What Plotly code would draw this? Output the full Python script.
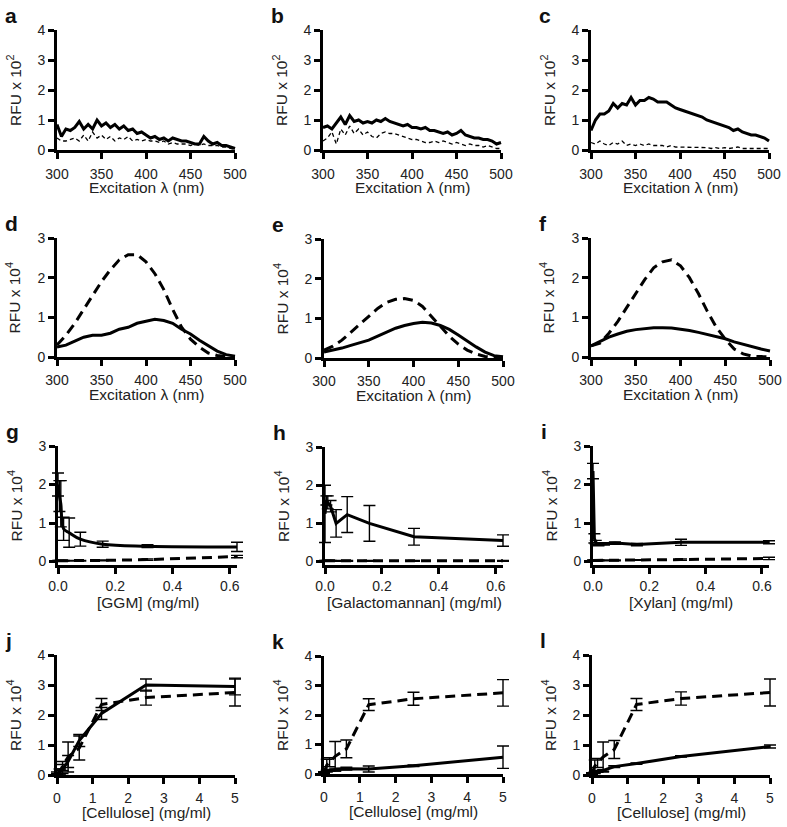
import plotly.graph_objects as go

W, H = 787, 827

# ---------------- data ----------------
# a-c: noisy excitation spectra (RFU x 10^2)
wl_noisy = list(range(300, 505, 5))
a_solid = [0.85, 0.45, 0.7, 0.65, 0.75, 0.95, 0.7, 0.85, 0.7, 1.0, 0.8, 0.9, 0.75, 0.85, 0.7, 0.8,
           0.65, 0.7, 0.55, 0.6, 0.5, 0.4, 0.45, 0.35, 0.4, 0.3, 0.4, 0.35, 0.3, 0.3, 0.25, 0.2,
           0.2, 0.45, 0.3, 0.2, 0.25, 0.15, 0.15, 0.1, 0.05]
a_dashed = [0.4, 0.3, 0.3, 0.35, 0.4, 0.3, 0.5, 0.3, 0.6, 0.4, 0.5, 0.35, 0.45, 0.3, 0.4, 0.35,
            0.45, 0.3, 0.35, 0.3, 0.35, 0.3, 0.3, 0.25, 0.3, 0.2, 0.25, 0.2, 0.2, 0.2, 0.15, 0.2,
            0.15, 0.2, 0.15, 0.15, 0.15, 0.1, 0.1, 0.05, 0.0]
b_solid = [0.75, 0.8, 0.7, 0.9, 1.1, 0.85, 1.15, 0.95, 1.0, 0.9, 0.95, 0.9, 1.0, 0.95, 1.05, 0.95,
           0.9, 0.85, 0.8, 0.85, 0.75, 0.75, 0.7, 0.75, 0.65, 0.65, 0.6, 0.55, 0.6, 0.5, 0.55, 0.65,
           0.5, 0.45, 0.4, 0.4, 0.35, 0.35, 0.3, 0.2, 0.25]
b_dashed = [0.3, 0.4, 0.6, 0.2, 0.7, 0.5, 0.8, 0.55, 0.7, 0.5, 0.6, 0.45, 0.4, 0.55, 0.6, 0.55,
            0.55, 0.5, 0.45, 0.4, 0.35, 0.35, 0.3, 0.25, 0.25, 0.3, 0.25, 0.3, 0.25, 0.2, 0.25, 0.2,
            0.15, 0.2, 0.15, 0.15, 0.1, 0.15, 0.1, 0.05, 0.05]
c_solid = [0.65, 1.0, 1.2, 1.2, 1.3, 1.55, 1.4, 1.55, 1.5, 1.75, 1.5, 1.65, 1.65, 1.75, 1.7, 1.6,
           1.6, 1.6, 1.5, 1.4, 1.35, 1.3, 1.25, 1.2, 1.15, 1.1, 1.0, 0.95, 0.9, 0.85, 0.8, 0.75,
           0.65, 0.7, 0.6, 0.55, 0.5, 0.5, 0.45, 0.4, 0.3]
c_dashed = [0.25, 0.2, 0.3, 0.2, 0.15, 0.25, 0.2, 0.3, 0.15, 0.2, 0.15, 0.2, 0.15, 0.2, 0.15, 0.15,
            0.15, 0.1, 0.15, 0.1, 0.1, 0.1, 0.1, 0.08, 0.1, 0.08, 0.08, 0.05, 0.08, 0.05, 0.08, 0.05,
            0.08, 0.1, 0.05, 0.05, 0.05, 0.05, 0.05, 0.05, 0.05]

# d-f: smooth excitation spectra (RFU x 10^4)
wl_smooth = list(range(300, 510, 10))
d_solid = [0.25, 0.3, 0.4, 0.5, 0.55, 0.55, 0.6, 0.7, 0.75, 0.85, 0.9, 0.95, 0.92, 0.85, 0.7, 0.58,
           0.42, 0.28, 0.15, 0.06, 0.02]
d_dashed = [0.3, 0.55, 0.85, 1.2, 1.55, 1.9, 2.2, 2.45, 2.58, 2.58, 2.4, 2.1, 1.7, 1.2, 0.75, 0.45,
            0.25, 0.1, 0.04, 0.01, 0.0]
e_solid = [0.15, 0.2, 0.25, 0.32, 0.38, 0.45, 0.55, 0.65, 0.75, 0.82, 0.87, 0.9, 0.88, 0.82, 0.72,
           0.58, 0.42, 0.28, 0.15, 0.06, 0.03]
e_dashed = [0.2, 0.3, 0.45, 0.65, 0.85, 1.05, 1.25, 1.4, 1.48, 1.5, 1.45, 1.3, 1.05, 0.8, 0.55, 0.35,
            0.2, 0.1, 0.04, 0.01, 0.0]
f_solid = [0.28, 0.4, 0.5, 0.58, 0.65, 0.69, 0.72, 0.74, 0.74, 0.73, 0.7, 0.67, 0.62, 0.57, 0.52,
           0.46, 0.38, 0.32, 0.25, 0.2, 0.15]
f_dashed = [0.28, 0.35, 0.6, 0.9, 1.25, 1.6, 1.95, 2.25, 2.4, 2.45, 2.3, 2.0, 1.6, 1.15, 0.75, 0.45,
            0.2, 0.08, 0.02, 0.01, 0.0]

# g-i: hemicellulose titrations (RFU x 10^4)
conc_hemi = [0, 0.0049, 0.0098, 0.0195, 0.039, 0.078, 0.156, 0.3125, 0.625]
g_solid = [2.0, 1.7, 1.5, 0.85, 0.75, 0.58, 0.45, 0.40, 0.38]
g_solid_err = [0.3, 0.4, 0.6, 0.3, 0.38, 0.18, 0.08, 0.04, 0.12]
g_dashed = [0.02, 0.02, 0.02, 0.02, 0.02, 0.02, 0.03, 0.05, 0.13]
g_dashed_err = [0.01, 0.01, 0.01, 0.01, 0.01, 0.01, 0.01, 0.02, 0.03]
h_solid = [1.25, 1.6, 1.55, 1.45, 1.0, 1.23, 1.0, 0.65, 0.55]
h_solid_err = [0.75, 0.12, 0.17, 0.15, 0.36, 0.47, 0.47, 0.22, 0.15]
h_dashed = [0.02, 0.02, 0.02, 0.02, 0.02, 0.02, 0.02, 0.02, 0.02]
h_dashed_err = [0.01, 0.01, 0.01, 0.01, 0.01, 0.01, 0.01, 0.01, 0.01]
i_solid = [2.35, 0.6, 0.5, 0.45, 0.46, 0.48, 0.44, 0.5, 0.5]
i_solid_err = [0.2, 0.12, 0.05, 0.04, 0.03, 0.03, 0.03, 0.08, 0.04]
i_dashed = [0.03, 0.03, 0.03, 0.03, 0.03, 0.03, 0.04, 0.05, 0.08]
i_dashed_err = [0.01, 0.01, 0.01, 0.01, 0.01, 0.01, 0.01, 0.02, 0.03]

# j-l: cellulose titrations (RFU x 10^4)
conc_cell = [0, 0.078, 0.156, 0.3125, 0.625, 1.25, 2.5, 5]
j_solid = [0.05, 0.1, 0.2, 0.45, 1.15, 2.05, 3.0, 2.95]
j_solid_err = [0.05, 0.1, 0.15, 0.2, 0.2, 0.2, 0.2, 0.28]
j_dashed = [0.02, 0.1, 0.3, 0.6, 0.9, 2.35, 2.58, 2.75]
j_dashed_err = [0.02, 0.1, 0.15, 0.5, 0.4, 0.2, 0.25, 0.45]
k_solid = [0.05, 0.1, 0.12, 0.15, 0.18, 0.17, 0.28, 0.57]
k_solid_err = [0.02, 0.03, 0.03, 0.05, 0.05, 0.1, 0.03, 0.38]
k_dashed = [0.05, 0.3, 0.4, 0.6, 0.85, 2.35, 2.55, 2.75]
k_dashed_err = [0.03, 0.2, 0.15, 0.5, 0.3, 0.2, 0.22, 0.45]
l_solid = [0.05, 0.08, 0.12, 0.15, 0.28, 0.38, 0.62, 0.95]
l_solid_err = [0.02, 0.03, 0.03, 0.03, 0.03, 0.02, 0.02, 0.05]
l_dashed = [0.05, 0.3, 0.4, 0.6, 0.85, 2.35, 2.55, 2.75]
l_dashed_err = [0.03, 0.2, 0.15, 0.5, 0.3, 0.2, 0.22, 0.45]

# ---------------- panels ----------------
# letter, x, solid, solid err, dashed, dashed err, box px (l, r, t, b), xrange, yrange, ytop, xtitle,
# exponent, x tick label standoff
panels = [
    ("a", wl_noisy, a_solid, None, a_dashed, None, (57, 235, 30, 150), [300, 500], [0, 4], 4, "wl", 2, 3),
    ("b", wl_noisy, b_solid, None, b_dashed, None, (323, 501, 30, 150), [300, 500], [0, 4], 4, "wl", 2, 3),
    ("c", wl_noisy, c_solid, None, c_dashed, None, (591, 769, 30, 150), [300, 500], [0, 4], 4, "wl", 2, 3),
    ("d", wl_smooth, d_solid, None, d_dashed, None, (57, 235, 238, 357), [300, 500], [0, 3], 3, "wl", 4, 2),
    ("e", wl_smooth, e_solid, None, e_dashed, None, (324, 503, 239, 358), [300, 500], [0, 3], 3, "wl", 4, 2),
    ("f", wl_smooth, f_solid, None, f_dashed, None, (591, 770, 238, 357), [300, 500], [0, 3], 3, "wl", 4, 2),
    ("g", conc_hemi, g_solid, g_solid_err, g_dashed, g_dashed_err, (58, 237, 446, 565), [0, 0.625], [-0.09, 3], 3, "[GGM] (mg/ml)", 4, 0),
    ("h", conc_hemi, h_solid, h_solid_err, h_dashed, h_dashed_err, (325, 503, 447, 565), [0, 0.625], [-0.09, 3], 3, "[Galactomannan] (mg/ml)", 4, 0),
    ("i", conc_hemi, i_solid, i_solid_err, i_dashed, i_dashed_err, (593, 769, 446, 565), [0, 0.625], [-0.09, 3], 3, "[Xylan] (mg/ml)", 4, 0),
    ("j", conc_cell, j_solid, j_solid_err, j_dashed, j_dashed_err, (57, 235, 655, 775), [0, 5], [0, 4], 4, "[Cellulose] (mg/ml)", 4, 2),
    ("k", conc_cell, k_solid, k_solid_err, k_dashed, k_dashed_err, (324, 503, 656, 774), [0, 5], [0, 4], 4, "[Cellulose] (mg/ml)", 4, 2),
    ("l", conc_cell, l_solid, l_solid_err, l_dashed, l_dashed_err, (592, 770, 655, 775), [0, 5], [0, 4], 4, "[Cellulose] (mg/ml)", 4, 2),
]

FONT = "Liberation Sans, Arial, Helvetica, sans-serif"
TXT = "#222"
PAD = 12  # px of extra room so error-bar caps are not clipped
fig = go.Figure()
layout = {}
annotations = []


def err(vals):
    if vals is None:
        return None
    return dict(type="data", array=vals, visible=True, color="black", thickness=1.4, width=6)


def ax(i):
    return "" if i == 1 else str(i)


N = len(panels)
for n, p in enumerate(panels, start=1):
    letter, xs, sol, sol_err, das, das_err, box, xr, yr, ytop, xkind, yexp, xstand = p
    l, r, t, b = box
    m = n + N  # hidden data axes, slightly larger than the visible frame
    row1 = letter in "abc"
    dash_w = 1.3 if row1 else 3
    dash_pat = "4px,3px" if row1 else "10px,6px"
    shape = "spline" if letter == "g" else "linear"

    # empty trace so the visible frame gets drawn
    fig.add_trace(go.Scatter(x=[None], y=[None], mode="lines", xaxis="x" + ax(n), yaxis="y" + ax(n),
                             showlegend=False, hoverinfo="skip"))
    for ys, es, lw, dash, sh in [(das, das_err, dash_w, dash_pat, "linear"), (sol, sol_err, 3, "solid", shape)]:
        fig.add_trace(go.Scatter(x=xs, y=ys, mode="lines", xaxis="x" + ax(m), yaxis="y" + ax(m),
                                 showlegend=False, hoverinfo="skip",
                                 line=dict(color="black", width=lw, dash=dash, shape=sh),
                                 error_y=err(es)))

    if xkind == "wl":
        xticks = dict(tickvals=[300, 350, 400, 450, 500])
        xtitle = "Excitation λ (nm)"
    elif xr[1] < 1:
        xticks = dict(tickvals=[0, 0.2, 0.4, 0.6], tickformat=".1f")
        xtitle = xkind
    else:
        xticks = dict(tickvals=[0, 1, 2, 3, 4, 5])
        xtitle = xkind

    axis_common = dict(showline=True, linewidth=3, linecolor="black", ticks="outside", ticklen=6,
                       tickwidth=2.5, tickcolor="black", showgrid=False, zeroline=False,
                       automargin=False, fixedrange=True,
                       tickfont=dict(size=14, color=TXT, family=FONT))
    layout["xaxis" + ax(n)] = dict(domain=[l / W, r / W], range=xr, anchor="y" + ax(n),
                                   ticklabelstandoff=xstand, **axis_common, **xticks)
    layout["yaxis" + ax(n)] = dict(domain=[1 - b / H, 1 - t / H], range=yr, anchor="x" + ax(n),
                                   tickvals=list(range(0, ytop + 1)), **axis_common)

    # hidden data axes with the same scale, padded on every side
    xppu = (r - l) / (xr[1] - xr[0])
    yppu = (b - t) / (yr[1] - yr[0])
    layout["xaxis" + ax(m)] = dict(domain=[(l - PAD) / W, (r + PAD) / W],
                                   range=[xr[0] - PAD / xppu, xr[1] + PAD / xppu],
                                   anchor="y" + ax(m), visible=False, automargin=False, fixedrange=True)
    layout["yaxis" + ax(m)] = dict(domain=[1 - (b + PAD) / H, 1 - (t - PAD) / H],
                                   range=[yr[0] - PAD / yppu, yr[1] + PAD / yppu],
                                   anchor="x" + ax(m), visible=False, automargin=False, fixedrange=True)

    # panel letter
    annotations.append(dict(text=f"<b>{letter}</b>", xref="paper", yref="paper",
                            x=(l - 54) / W, y=1 - (t - 28) / H, xanchor="left", yanchor="top",
                            showarrow=False, font=dict(size=21, color="#111", family=FONT)))
    # y title
    annotations.append(dict(text=f"RFU x 10<sup>{yexp}</sup>", xref="paper", yref="paper",
                            x=(l - 43) / W, y=1 - ((t + b) / 2) / H, xanchor="center", yanchor="middle",
                            textangle=-90, showarrow=False,
                            font=dict(size=15.5, color=TXT, family=FONT)))
    # x title
    annotations.append(dict(text=xtitle, xref="paper", yref="paper",
                            x=((l + r) / 2) / W, y=1 - (b + 37) / H, xanchor="center", yanchor="middle",
                            showarrow=False, font=dict(size=15.5, color=TXT, family=FONT)))

fig.update_layout(width=W, height=H, margin=dict(l=0, r=0, t=0, b=0, pad=0),
                  plot_bgcolor="rgba(0,0,0,0)", paper_bgcolor="white",
                  font=dict(family=FONT, color=TXT),
                  annotations=annotations, **layout)

# the page's default 8px body margin would shift the whole figure
fig.write_html("out.html", config={"displayModeBar": False},
               post_script="document.body.style.margin = '0';")
